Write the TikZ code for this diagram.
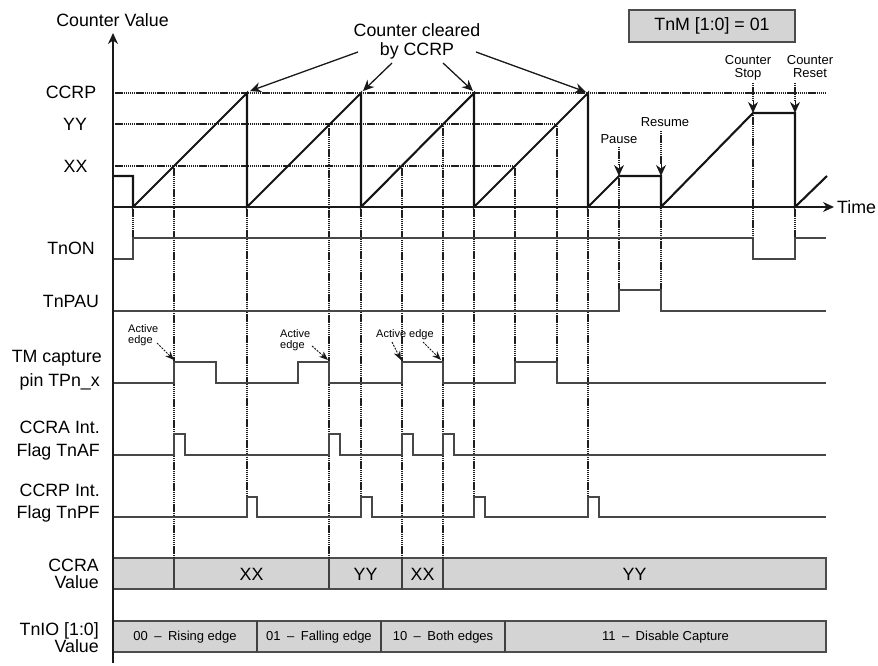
\documentclass[tikz,border=0pt]{standalone}
\usepackage{fontspec}
\setmainfont{Liberation Sans}
\usetikzlibrary{arrows.meta}
\begin{document}
\begin{tikzpicture}[x=1pt,y=-1pt,
  cnt/.style={line width=2.1pt, color=black!92, line join=miter},
  sig/.style={line width=1.3pt, color=black!72},
  dotl/.style={line width=1.1pt, dash pattern=on 1.4pt off 0.7pt, color=black!88},
  axis/.style={line width=1.5pt, color=black!90},
  big/.style={font=\fontsize{17.8}{17.8}\selectfont, inner sep=0pt},
  mid/.style={font=\fontsize{13}{13}\selectfont, inner sep=0pt},
  tiny/.style={font=\fontsize{11}{11}\selectfont, inner sep=0pt},
  valbox/.style={draw=black!70, fill=black!17, line width=1.2pt},
  arr/.style={-{Stealth[length=11pt,width=10pt]}},
  arrs/.style={-{Stealth[length=9pt,width=7pt]}},
  edgearr/.style={line width=1pt, dash pattern=on 2pt off 1.2pt, color=black!90},
]
\useasboundingbox (0,0) rectangle (878,666);

% value boxes
\draw[valbox] (113,558) rectangle (826,589);
\foreach \x in {174,329,402,443} \draw[line width=1.2pt, black!75] (\x,558) -- (\x,589);
\draw[valbox] (113,621) rectangle (826,652);
\foreach \x in {257,381,505} \draw[line width=1.2pt, black!75] (\x,621) -- (\x,652);
\node[big] (v1) at (251.5,574) {XX};
\node[big] (v2) at (365.5,574) {YY};
\node[big] (v3) at (422.5,574) {XX};
\node[big] (v4) at (634.5,574) {YY};
\node[mid] (io1) at (185,637) {00\enspace–\enspace Rising edge};
\node[mid] (io2) at (319,637) {01\enspace–\enspace Falling edge};
\node[mid] (io3) at (443,637) {10\enspace–\enspace Both edges};
\node[mid] (io4) at (665.5,637) {11\enspace–\enspace Disable Capture};

% mode box
\draw[valbox] (629,10) rectangle (795,42);
\node[big] (mode) at (712,26) {TnM [1:0] = 01};

% dotted reference lines
\draw[dotl] (113,93) -- (826,93);
\draw[dotl] (113,124) -- (557,124);
\draw[dotl] (113,166) -- (515,166);
\foreach \x/\ya/\yb in {133/207/238, 174/166/558, 247/207/497, 329/124/558, 361/207/497,
  402/166/558, 443/124/558, 474/207/497, 515/166/362, 557/124/362, 588/207/497,
  619/176/290, 661/176/290, 753/113/238, 795/207/238}
  \draw[dotl] (\x,\ya) -- (\x,\yb);

% signals
\draw[sig] (113,259) -- (133,259) -- (133,238) -- (753,238) -- (753,259) -- (795,259) -- (795,238) -- (826,238);
\draw[sig] (113,311) -- (619,311) -- (619,290) -- (661,290) -- (661,311) -- (826,311);
\draw[sig] (113,383) -- (174,383) -- (174,362) -- (216,362) -- (216,383) -- (298,383) -- (298,362)
  -- (329,362) -- (329,383) -- (402,383) -- (402,362) -- (443,362) -- (443,383) -- (515,383)
  -- (515,362) -- (557,362) -- (557,383) -- (826,383);
\draw[sig] (113,455) -- (174,455) -- (174,434) -- (185,434) -- (185,455) -- (329,455) -- (329,434)
  -- (340,434) -- (340,455) -- (402,455) -- (402,434) -- (413,434) -- (413,455) -- (443,455)
  -- (443,434) -- (454,434) -- (454,455) -- (826,455);
\draw[sig] (113,517) -- (247,517) -- (247,497) -- (257,497) -- (257,517) -- (361,517) -- (361,497)
  -- (372,497) -- (372,517) -- (474,517) -- (474,497) -- (485,497) -- (485,517) -- (588,517)
  -- (588,497) -- (599,497) -- (599,517) -- (826,517);

% counter
\draw[cnt] (113,176) -- (133,176) -- (133,207) -- (247,93) -- (247,207) -- (361,93) -- (361,207)
  -- (474,93) -- (474,207) -- (588,93) -- (588,207) -- (619,176) -- (661,176) -- (661,207)
  -- (753,113) -- (795,113) -- (795,207) -- (827,176);

% axes
\coordinate (o) at (113,663);
\coordinate (ytop) at (113,33);
\coordinate (t0) at (113,207);
\coordinate (tend) at (834,207);
\draw[axis, arr] (o) -- (ytop);
\draw[axis, arr] (t0) -- (tend);
\node[big, anchor=base west] (time) at (837,213) {Time};
\node[big, anchor=base] (cv) at (112.5,27) {Counter Value};

% left labels
\node[big, anchor=base] (lccrp) at (71,99) {CCRP};
\node[big, anchor=base] (lyy) at (75,131) {YY};
\node[big, anchor=base] (lxx) at (75.5,172) {XX};
\node[big, anchor=base] (lon) at (71,254) {TnON};
\node[big, anchor=base] (lpau) at (71,307) {TnPAU};
\node[big, anchor=base east] (ltm1) at (102,362) {TM capture};
\node[big, anchor=base east] (ltm2) at (100,386) {pin TPn\_x};
\node[big, anchor=base east] (laf1) at (100,433) {CCRA Int.};
\node[big, anchor=base east] (laf2) at (100,456) {Flag TnAF};
\node[big, anchor=base east] (lpf1) at (100,496) {CCRP Int.};
\node[big, anchor=base east] (lpf2) at (100,518) {Flag TnPF};
\node[big, anchor=base east] (lca1) at (99,571) {CCRA};
\node[big, anchor=base east] (lca2) at (99,588) {Value};
\node[big, anchor=base east] (lio1) at (99,635) {TnIO [1:0]};
\node[big, anchor=base east] (lio2) at (99,652) {Value};

% counter cleared
\node[big, anchor=base] (cc1) at (417,37) {Counter cleared};
\node[big, anchor=base] (cc2) at (417,56) {by CCRP};
\coordinate (c1s) at (358,52); \coordinate (c1e) at (250,91);
\coordinate (c2s) at (392,63); \coordinate (c2e) at (363,91);
\coordinate (c3s) at (443,63); \coordinate (c3e) at (473,91);
\coordinate (c4s) at (476,52); \coordinate (c4e) at (586,92);
\foreach \i in {1,2,3,4} \draw[line width=1.3pt, black!90, arr] (c\i s) -- (c\i e);

% events
\node[mid, anchor=base] (pause) at (619,143) {Pause};
\node[mid, anchor=base] (resume) at (665,127) {Resume};
\node[mid, anchor=base] (stop1) at (748,65) {Counter};
\node[mid, anchor=base] (stop2) at (748,78) {Stop};
\node[mid, anchor=base] (rst1) at (810,65) {Counter};
\node[mid, anchor=base] (rst2) at (810,78) {Reset};
\foreach \n/\x/\ya/\yb in {p/619/147/176, r/661/131/176, s/753/83/113, c/795/83/113}{
  \coordinate (\n a) at (\x,\ya); \coordinate (\n b) at (\x,\yb);
  \coordinate (\n m) at (\x,\yb-12);
  \draw[dotl] (\n a) -- (\n m);
  \draw[line width=1pt, black!90, arr] (\n m) -- (\n b);
}

% active edges
\node[tiny, anchor=base west] (ae1a) at (128,332) {Active};
\node[tiny, anchor=base west] (ae1b) at (128,343) {edge};
\node[tiny, anchor=base west] (ae2a) at (280,337) {Active};
\node[tiny, anchor=base west] (ae2b) at (280,348) {edge};
\node[tiny, anchor=base west] (ae3) at (376,337) {Active edge};
\coordinate (a1s) at (157,343); \coordinate (a1e) at (174,360);
\coordinate (a2s) at (312,346); \coordinate (a2e) at (328,360);
\coordinate (a3s) at (392,342); \coordinate (a3e) at (401,360);
\coordinate (a4s) at (423,342); \coordinate (a4e) at (441,360);
\foreach \i in {1,2,3,4} \draw[edgearr, arrs] (a\i s) -- (a\i e);
\end{tikzpicture}
\end{document}
